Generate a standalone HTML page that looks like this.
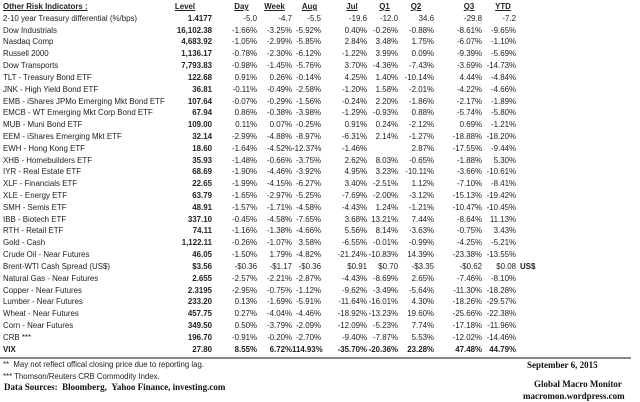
<!DOCTYPE html>
<html><head><meta charset="utf-8"><style>
body{margin:0;width:640px;height:402px;background:#fff;position:relative;overflow:hidden;font-family:"Liberation Sans",sans-serif;color:#222}
table{position:absolute;left:3px;top:1px;width:543px;border-collapse:collapse;table-layout:fixed;font-size:7.9px}
td{height:11.82px;padding:0;line-height:11.82px;white-space:nowrap;text-align:right;overflow:visible}
td:first-child{text-align:left}
td:nth-child(2){font-weight:bold}
tr.h td{font-weight:bold;text-decoration:underline;text-align:center}
tr.h td:first-child{text-align:left}
tr.b td{font-weight:bold}
.s{position:absolute;font-family:"Liberation Serif",serif;font-weight:bold;font-size:9px;color:#111}
.f{position:absolute;font-size:7.8px;left:3px;color:#222}
</style></head><body>
<table>
<colgroup><col style="width:147px"><col style="width:62px"><col style="width:45px"><col style="width:35px"><col style="width:29px"><col style="width:46px"><col style="width:31px"><col style="width:36px"><col style="width:48px"><col style="width:34px"><col style="width:30px"></colgroup>
<tr class="h"><td>Other Risk Indicators :</td><td style="text-align:center;padding-left:8px">Level</td><td style="padding-left:14px">Day</td><td>Week</td><td style="padding-left:6px">Aug</td><td style="padding-left:16px">Jul</td><td style="padding-left:4px">Q1</td><td>Q2</td><td style="padding-left:22px">Q3</td><td style="padding-left:8px">YTD</td><td></td></tr>
<tr><td>2-10 year Treasury differential (%/bps)</td><td>1.4177</td><td>-5.0</td><td>-4.7</td><td>-5.5</td><td>-19.6</td><td>-12.0</td><td>34.6</td><td>-29.8</td><td>-7.2</td><td></td></tr>
<tr><td>Dow Industrials</td><td>16,102.38</td><td>-1.66%</td><td>-3.25%</td><td>-5.92%</td><td>0.40%</td><td>-0.26%</td><td>-0.88%</td><td>-8.61%</td><td>-9.65%</td><td></td></tr>
<tr><td>Nasdaq Comp</td><td>4,683.92</td><td>-1.05%</td><td>-2.99%</td><td>-5.85%</td><td>2.84%</td><td>3.48%</td><td>1.75%</td><td>-6.07%</td><td>-1.10%</td><td></td></tr>
<tr><td>Russell 2000</td><td>1,136.17</td><td>-0.78%</td><td>-2.30%</td><td>-6.12%</td><td>-1.22%</td><td>3.99%</td><td>0.09%</td><td>-9.39%</td><td>-5.69%</td><td></td></tr>
<tr><td>Dow Transports</td><td>7,793.83</td><td>-0.98%</td><td>-1.45%</td><td>-5.76%</td><td>3.70%</td><td>-4.36%</td><td>-7.43%</td><td>-3.69%</td><td>-14.73%</td><td></td></tr>
<tr><td>TLT - Treasury Bond ETF</td><td>122.68</td><td>0.91%</td><td>0.26%</td><td>-0.14%</td><td>4.25%</td><td>1.40%</td><td>-10.14%</td><td>4.44%</td><td>-4.84%</td><td></td></tr>
<tr><td>JNK - High Yield Bond ETF</td><td>36.81</td><td>-0.11%</td><td>-0.49%</td><td>-2.58%</td><td>-1.20%</td><td>1.58%</td><td>-2.01%</td><td>-4.22%</td><td>-4.66%</td><td></td></tr>
<tr><td>EMB - iShares JPMo Emerging Mkt Bond ETF</td><td>107.64</td><td>-0.07%</td><td>-0.29%</td><td>-1.56%</td><td>-0.24%</td><td>2.20%</td><td>-1.86%</td><td>-2.17%</td><td>-1.89%</td><td></td></tr>
<tr><td>EMCB - WT Emerging Mkt Corp Bond ETF</td><td>67.94</td><td>0.86%</td><td>-0.38%</td><td>-3.98%</td><td>-1.29%</td><td>-0.93%</td><td>0.88%</td><td>-5.74%</td><td>-5.80%</td><td></td></tr>
<tr><td>MUB - Muni Bond ETF</td><td>109.00</td><td>0.11%</td><td>0.07%</td><td>-0.25%</td><td>0.91%</td><td>0.24%</td><td>-2.12%</td><td>0.69%</td><td>-1.21%</td><td></td></tr>
<tr><td>EEM - iShares Emerging Mkt ETF</td><td>32.14</td><td>-2.99%</td><td>-4.88%</td><td>-8.97%</td><td>-6.31%</td><td>2.14%</td><td>-1.27%</td><td>-18.88%</td><td>-18.20%</td><td></td></tr>
<tr><td>EWH - Hong Kong ETF</td><td>18.60</td><td>-1.64%</td><td>-4.52%</td><td>-12.37%</td><td>-1.46%</td><td></td><td>2.87%</td><td>-17.55%</td><td>-9.44%</td><td></td></tr>
<tr><td>XHB - Homebuilders ETF</td><td>35.93</td><td>-1.48%</td><td>-0.66%</td><td>-3.75%</td><td>2.62%</td><td>8.03%</td><td>-0.65%</td><td>-1.88%</td><td>5.30%</td><td></td></tr>
<tr><td>IYR - Real Estate ETF</td><td>68.69</td><td>-1.90%</td><td>-4.46%</td><td>-3.92%</td><td>4.95%</td><td>3.23%</td><td>-10.11%</td><td>-3.66%</td><td>-10.61%</td><td></td></tr>
<tr><td>XLF - Financials ETF</td><td>22.65</td><td>-1.99%</td><td>-4.15%</td><td>-6.27%</td><td>3.40%</td><td>-2.51%</td><td>1.12%</td><td>-7.10%</td><td>-8.41%</td><td></td></tr>
<tr><td>XLE - Energy ETF</td><td>63.79</td><td>-1.65%</td><td>-2.97%</td><td>-5.25%</td><td>-7.69%</td><td>-2.00%</td><td>-3.12%</td><td>-15.13%</td><td>-19.42%</td><td></td></tr>
<tr><td>SMH - Semis ETF</td><td>48.91</td><td>-1.57%</td><td>-1.71%</td><td>-4.58%</td><td>-4.43%</td><td>1.24%</td><td>-1.21%</td><td>-10.47%</td><td>-10.45%</td><td></td></tr>
<tr><td>IBB - Biotech ETF</td><td>337.10</td><td>-0.45%</td><td>-4.58%</td><td>-7.65%</td><td>3.68%</td><td>13.21%</td><td>7.44%</td><td>-8.64%</td><td>11.13%</td><td></td></tr>
<tr><td>RTH - Retail ETF</td><td>74.11</td><td>-1.16%</td><td>-1.38%</td><td>-4.66%</td><td>5.56%</td><td>8.14%</td><td>-3.63%</td><td>-0.75%</td><td>3.43%</td><td></td></tr>
<tr><td>Gold - Cash</td><td>1,122.11</td><td>-0.26%</td><td>-1.07%</td><td>3.58%</td><td>-6.55%</td><td>-0.01%</td><td>-0.99%</td><td>-4.25%</td><td>-5.21%</td><td></td></tr>
<tr><td>Crude Oil - Near Futures</td><td>46.05</td><td>-1.50%</td><td>1.79%</td><td>-4.82%</td><td>-21.24%</td><td>-10.83%</td><td>14.39%</td><td>-23.38%</td><td>-13.55%</td><td></td></tr>
<tr><td>Brent-WTI Cash Spread (US$)</td><td>$3.56</td><td>-$0.36</td><td>-$1.17</td><td>-$0.36</td><td>$0.91</td><td>$0.70</td><td>-$3.35</td><td>-$0.62</td><td>$0.08</td><td style="text-align:left;font-weight:bold;padding-left:4px">US$</td></tr>
<tr><td>Natural Gas - Near Futures</td><td>2.655</td><td>-2.57%</td><td>-2.21%</td><td>-2.87%</td><td>-4.43%</td><td>-8.69%</td><td>2.65%</td><td>-7.46%</td><td>-8.10%</td><td></td></tr>
<tr><td>Copper - Near Futures</td><td>2.3195</td><td>-2.95%</td><td>-0.75%</td><td>-1.12%</td><td>-9.62%</td><td>-3.49%</td><td>-5.64%</td><td>-11.30%</td><td>-18.28%</td><td></td></tr>
<tr><td>Lumber - Near Futures</td><td>233.20</td><td>0.13%</td><td>-1.69%</td><td>-5.91%</td><td>-11.64%</td><td>-16.01%</td><td>4.30%</td><td>-18.26%</td><td>-29.57%</td><td></td></tr>
<tr><td>Wheat - Near Futures</td><td>457.75</td><td>0.27%</td><td>-4.04%</td><td>-4.46%</td><td>-18.92%</td><td>-13.23%</td><td>19.60%</td><td>-25.66%</td><td>-22.38%</td><td></td></tr>
<tr><td>Corn - Near Futures</td><td>349.50</td><td>0.50%</td><td>-3.79%</td><td>-2.09%</td><td>-12.09%</td><td>-5.23%</td><td>7.74%</td><td>-17.18%</td><td>-11.96%</td><td></td></tr>
<tr><td>CRB ***</td><td>196.70</td><td>-0.91%</td><td>-0.20%</td><td>-2.70%</td><td>-9.40%</td><td>-7.87%</td><td>5.53%</td><td>-12.02%</td><td>-14.46%</td><td></td></tr>
<tr class="b"><td>VIX</td><td>27.80</td><td>8.55%</td><td>6.72%</td><td>114.93%</td><td>-35.70%</td><td>-20.36%</td><td>23.28%</td><td>47.48%</td><td>44.79%</td><td></td></tr>
</table>
<div style="position:absolute;left:0;top:357px;width:631px;height:2px;background:#888"></div>
<div class="f" style="top:360px">** &nbsp;May not reflect offical closing price due to reporting lag.</div>
<div class="f" style="top:372px">*** Thomson/Reuters CRB Commodity Index.</div>
<div class="s" style="left:4px;top:382px">Data Sources: &nbsp;Bloomberg, &nbsp;Yahoo Finance, investing.com</div>
<div class="s" style="left:527px;top:360px">September 6, 2015</div>
<div class="s" style="left:534px;top:379px">Global Macro Monitor</div>
<div class="s" style="left:523px;top:391px">macromon.wordpress.com</div>
</body></html>
